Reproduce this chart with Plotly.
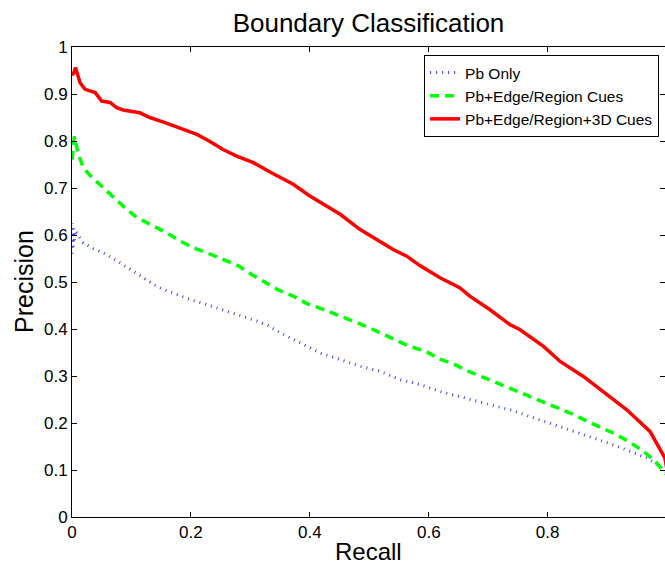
import plotly.graph_objects as go

# ---- data ----
series_names = ["Pb Only", "Pb+Edge/Region Cues", "Pb+Edge/Region+3D Cues"]

blue_recall = [0, 0.001, 0.002, 0.003, 0.004, 0.006, 0.008, 0.019, 0.036, 0.053, 0.07, 0.086,
               0.103, 0.12, 0.137, 0.154, 0.176, 0.198, 0.221, 0.243, 0.266, 0.288, 0.311, 0.33,
               0.35, 0.383, 0.417, 0.451, 0.484, 0.518, 0.552, 0.585, 0.619, 0.65, 0.669, 0.703,
               0.737, 0.77, 0.804, 0.838, 0.871, 0.905, 0.938, 0.966, 0.989, 1.0]
blue_precision = [0.56, 0.625, 0.575, 0.615, 0.59, 0.61, 0.605, 0.583, 0.571, 0.562, 0.549, 0.537,
                  0.523, 0.509, 0.495, 0.484, 0.473, 0.463, 0.454, 0.445, 0.434, 0.425, 0.417, 0.407,
                  0.392, 0.371, 0.349, 0.335, 0.321, 0.310, 0.292, 0.282, 0.267, 0.257, 0.250, 0.239,
                  0.228, 0.214, 0.200, 0.186, 0.172, 0.156, 0.140, 0.126, 0.108, 0.095]

green_recall = [0, 0.002, 0.004, 0.01, 0.019, 0.03, 0.05, 0.07, 0.089, 0.109, 0.131, 0.159, 0.179,
                0.204, 0.229, 0.254, 0.279, 0.302, 0.325, 0.347, 0.372, 0.395, 0.42, 0.445, 0.47,
                0.496, 0.518, 0.543, 0.568, 0.594, 0.619, 0.644, 0.667, 0.692, 0.717, 0.742, 0.767,
                0.793, 0.815, 0.84, 0.866, 0.891, 0.913, 0.938, 0.961, 0.981, 0.995, 1.0]
green_precision = [0.76, 0.79, 0.81, 0.775, 0.743, 0.727, 0.704, 0.679, 0.658, 0.637, 0.623, 0.605,
                   0.589, 0.573, 0.561, 0.548, 0.535, 0.516, 0.50, 0.483, 0.470, 0.454, 0.443, 0.431,
                   0.419, 0.405, 0.392, 0.378, 0.363, 0.353, 0.336, 0.324, 0.310, 0.297, 0.283, 0.271,
                   0.258, 0.245, 0.232, 0.220, 0.204, 0.189, 0.177, 0.159, 0.140, 0.118, 0.097, 0.09]

red_recall = [0, 0.003, 0.006, 0.0135, 0.022, 0.033, 0.039, 0.05, 0.064, 0.075, 0.086, 0.114, 0.131,
              0.154, 0.187, 0.21, 0.232, 0.254, 0.277, 0.305, 0.333, 0.372, 0.40, 0.428, 0.451,
              0.484, 0.507, 0.54, 0.563, 0.585, 0.619, 0.652, 0.669, 0.703, 0.737, 0.753, 0.793,
              0.821, 0.86, 0.894, 0.933, 0.972, 0.986, 0.997, 1.0]
red_precision = [0.94, 0.945, 0.956, 0.924, 0.91, 0.905, 0.903, 0.885, 0.882, 0.871, 0.866, 0.860,
                 0.850, 0.840, 0.825, 0.814, 0.799, 0.782, 0.768, 0.754, 0.734, 0.708, 0.683, 0.661,
                 0.644, 0.612, 0.594, 0.569, 0.555, 0.535, 0.509, 0.488, 0.470, 0.441, 0.409, 0.399,
                 0.363, 0.331, 0.299, 0.267, 0.228, 0.182, 0.150, 0.126, 0.105]

x_tick_vals = [0, 0.2, 0.4, 0.6, 0.8, 1.0]
x_tick_text = ["0", "0.2", "0.4", "0.6", "0.8", "1"]
y_tick_vals = [0, 0.1, 0.2, 0.3, 0.4, 0.5, 0.6, 0.7, 0.8, 0.9, 1.0]
y_tick_text = ["0", "0.1", "0.2", "0.3", "0.4", "0.5", "0.6", "0.7", "0.8", "0.9", "1"]

FONT = "Liberation Sans, Arial, Helvetica, sans-serif"

fig = go.Figure()
fig.add_trace(go.Scatter(x=blue_recall, y=blue_precision, mode="lines", name=series_names[0],
                         line=dict(color="rgb(70,70,255)", width=3, dash="1px,5px")))
fig.add_trace(go.Scatter(x=green_recall, y=green_precision, mode="lines", name=series_names[1],
                         line=dict(color="rgb(0,255,0)", width=3.5, dash="9px,6px")))
fig.add_trace(go.Scatter(x=red_recall, y=red_precision, mode="lines", name=series_names[2],
                         line=dict(color="rgb(255,0,0)", width=3.5)))

axis_common = dict(showgrid=False, zeroline=False, showline=True, linecolor="black", linewidth=1,
                   mirror="ticks", ticks="inside", ticklen=5, tickcolor="black", tickwidth=1,
                   tickfont=dict(family=FONT, size=17, color="black"))

fig.update_layout(
    width=665, height=564,
    margin=dict(l=72, r=0, t=47, b=47),
    paper_bgcolor="white", plot_bgcolor="white",
    font=dict(family=FONT, color="black"),
    title=dict(text="Boundary Classification", x=0.5, xref="paper", y=1 - 23 / 564,
               yref="container", xanchor="center", yanchor="middle",
               font=dict(family=FONT, size=26, color="black")),
    xaxis=dict(range=[0, 0.9973], tickvals=x_tick_vals, ticktext=x_tick_text, **axis_common),
    yaxis=dict(range=[0, 1], tickvals=y_tick_vals, ticktext=y_tick_text, **axis_common),
    legend=dict(x=0.99, y=0.983, xanchor="right", yanchor="top", bgcolor="white",
                bordercolor="black", borderwidth=1, font=dict(family=FONT, size=15.5, color="black"),
                tracegroupgap=0),
    showlegend=True,
    annotations=[
        dict(text="Recall", xref="paper", yref="paper", x=0.5, y=-(551 - 517) / 470,
             xanchor="center", yanchor="middle", showarrow=False,
             font=dict(family=FONT, size=24, color="black")),
        dict(text="Precision", xref="paper", yref="paper", x=-(72 - 24) / 593, y=0.5,
             xanchor="center", yanchor="middle", textangle=-90, showarrow=False,
             font=dict(family=FONT, size=25, color="black")),
    ],
)

fig.write_html(
    "out.html",
    config={"displayModeBar": False},
    post_script="document.body.style.margin='0';document.body.style.overflow='hidden';"
                "document.documentElement.style.overflow='hidden';",
)
